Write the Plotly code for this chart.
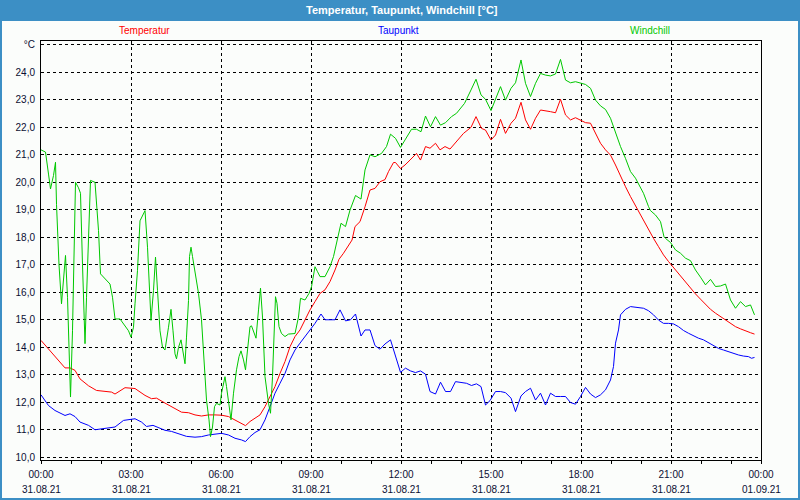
import pandas as pd
import plotly.graph_objects as go

# ---------------- data (minutes after 31.08.21 00:00, °C) ----------------
red_min = [0, 18, 28, 48, 58, 68, 78, 95, 111, 141,
           148, 168, 188, 208, 221, 231, 248, 261, 281, 295,
           308, 321, 335, 348, 361, 375, 388, 401, 409, 418,
           428, 438, 448, 458, 468, 478, 488, 498, 508, 518,
           528, 538, 548, 558, 568, 578, 588, 596, 605, 615,
           622, 628, 638, 648, 658, 668, 678, 688, 695, 705,
           709, 719, 728, 738, 751, 759, 769, 778, 789, 798,
           808, 818, 831, 845, 860, 870, 881, 889, 900, 909,
           919, 929, 940, 949, 960, 969, 979, 989, 999, 1009,
           1019, 1029, 1039, 1049, 1059, 1069, 1079, 1089, 1099, 1109,
           1119, 1129, 1139, 1149, 1159, 1169, 1179, 1189, 1197, 1205,
           1215, 1225, 1235, 1245, 1255, 1269, 1279, 1289, 1299, 1309,
           1319, 1329, 1339, 1349, 1359, 1369, 1379, 1389, 1399, 1409,
           1419, 1427]
red_val = [14.25, 13.88, 13.64, 13.25, 13.25, 13.16, 12.85, 12.6, 12.43, 12.37,
           12.3, 12.53, 12.5, 12.25, 12.13, 12.15, 11.97, 11.85, 11.64, 11.62,
           11.54, 11.5, 11.54, 11.54, 11.53, 11.48, 11.36, 11.24, 11.15, 11.3,
           11.42, 11.54, 11.84, 12.2, 12.57, 13.05, 13.48, 14.02, 14.39, 14.63,
           15.0, 15.36, 15.66, 15.96, 16.09, 16.39, 16.81, 17.2, 17.42, 17.72,
           17.9, 18.39, 18.57, 19.11, 19.72, 19.78, 20.02, 20.1, 20.39, 20.72,
           20.72, 20.5, 20.63, 20.81, 21.05, 20.81, 21.3, 21.24, 21.42, 21.18,
           21.3, 21.21, 21.48, 21.78, 22.0, 22.39, 21.96, 21.9, 21.54, 21.72,
           22.29, 21.78, 22.15, 22.33, 22.91, 22.27, 21.93, 22.33, 22.63, 22.61,
           22.57, 22.53, 23.02, 22.45, 22.27, 22.35, 22.27, 22.17, 22.15, 21.78,
           21.42, 21.18, 20.99, 20.63, 20.21, 19.84, 19.48, 19.15, 18.87, 18.57,
           18.27, 17.96, 17.66, 17.36, 17.12, 16.81, 16.59, 16.36, 16.15, 15.94,
           15.75, 15.57, 15.38, 15.24, 15.12, 14.99, 14.87, 14.75, 14.67, 14.59,
           14.53, 14.48]

blue_min = [0, 15, 28, 48, 58, 68, 78, 95, 108, 128,
            148, 165, 188, 201, 211, 224, 248, 261, 275, 291,
            308, 321, 335, 348, 361, 375, 388, 401, 409, 418,
            428, 438, 448, 458, 468, 478, 488, 498, 508, 518,
            528, 538, 548, 560, 568, 578, 588, 598, 609, 619,
            629, 640, 648, 658, 668, 678, 688, 699, 709, 719,
            729, 739, 749, 759, 769, 778, 789, 799, 809, 819,
            829, 841, 851, 861, 871, 880, 889, 898, 909, 919,
            929, 940, 949, 960, 969, 979, 989, 999, 1009, 1019,
            1029, 1039, 1049, 1059, 1069, 1079, 1089, 1099, 1109, 1119,
            1129, 1139, 1145, 1149, 1155, 1159, 1169, 1179, 1189, 1198,
            1205, 1215, 1225, 1235, 1245, 1255, 1265, 1275, 1285, 1295,
            1305, 1315, 1325, 1335, 1345, 1355, 1365, 1375, 1385, 1395,
            1405, 1415, 1421, 1427]
blue_val = [12.27, 11.88, 11.7, 11.52, 11.58, 11.48, 11.28, 11.16, 11.0, 11.06,
            11.1, 11.34, 11.4, 11.28, 11.12, 11.16, 10.98, 10.94, 10.85, 10.76,
            10.73, 10.75, 10.81, 10.85, 10.87, 10.81, 10.69, 10.63, 10.57, 10.75,
            10.9, 11.0, 11.36, 11.84, 12.33, 12.69, 13.05, 13.54, 13.9, 14.15,
            14.39, 14.63, 14.87, 15.21, 15.0, 15.0, 15.0, 15.36, 14.96, 15.0,
            15.21, 14.41, 14.63, 14.63, 14.06, 13.93, 14.12, 14.27, 13.66, 13.09,
            13.24, 13.14, 13.08, 13.14, 13.02, 12.39, 12.3, 12.73, 12.39, 12.39,
            12.75, 12.72, 12.69, 12.61, 12.67, 12.57, 11.9, 12.06, 12.39, 12.39,
            12.35, 12.15, 11.66, 12.23, 12.39, 12.51, 12.08, 12.33, 11.9, 12.33,
            12.21, 12.21, 12.21, 11.99, 11.93, 12.21, 12.54, 12.3, 12.17, 12.27,
            12.45, 12.81, 13.3, 14.15, 14.63, 15.18, 15.38, 15.48, 15.45, 15.42,
            15.42, 15.33, 15.18, 14.99, 14.87, 14.87, 14.85, 14.75, 14.61, 14.51,
            14.41, 14.33, 14.27, 14.17, 14.06, 13.96, 13.9, 13.84, 13.76, 13.72,
            13.68, 13.66, 13.6, 13.63]

green_min = [0, 9, 15, 19, 25, 29, 31, 36, 41, 43,
             47, 49, 53, 56, 59, 63, 66, 69, 75, 79,
             83, 88, 91, 95, 99, 108, 115, 119, 128, 138,
             143, 148, 158, 168, 175, 180, 185, 188, 193, 198,
             205, 208, 213, 217, 220, 225, 229, 233, 238, 243,
             248, 255, 260, 264, 268, 271, 275, 280, 283, 288,
             291, 295, 297, 300, 303, 308, 315, 321, 326, 331,
             336, 339, 343, 347, 351, 358, 361, 368, 371, 376,
             380, 385, 391, 396, 400, 405, 409, 413, 418, 421,
             426, 430, 435, 439, 443, 448, 455, 459, 463, 467,
             469, 472, 476, 481, 488, 495, 508, 515, 519, 528,
             536, 541, 548, 553, 558, 568, 578, 585, 591, 596,
             600, 609, 618, 629, 640, 648, 658, 668, 681, 691,
             699, 709, 719, 728, 741, 751, 760, 769, 779, 789,
             799, 809, 821, 831, 847, 860, 870, 880, 889, 900,
             909, 919, 929, 940, 949, 960, 969, 979, 989, 999,
             1009, 1019, 1029, 1039, 1049, 1059, 1069, 1079, 1089, 1099,
             1109, 1119, 1129, 1139, 1149, 1159, 1169, 1179, 1189, 1198,
             1205, 1215, 1219, 1229, 1239, 1246, 1249, 1259, 1269, 1279,
             1289, 1299, 1309, 1319, 1329, 1339, 1349, 1359, 1369, 1379,
             1389, 1399, 1409, 1419, 1427]
green_val = [21.18, 21.1, 20.3, 19.76, 20.25, 20.73, 19.2, 17.0, 15.58, 16.07,
             17.0, 17.34, 15.82, 14.13, 12.19, 14.6, 17.88, 20.0, 19.8, 19.6,
             17.0, 14.13, 15.8, 18.25, 20.07, 20.0, 18.25, 16.67, 16.5, 16.3,
             15.82, 15.03, 15.03, 14.8, 14.6, 14.37, 14.73, 15.58, 16.8, 18.6,
             18.9, 18.97, 17.64, 16.07, 14.98, 16.07, 17.28, 16.07, 14.6, 14.0,
             13.9, 14.73, 15.38, 14.6, 13.76, 13.58, 14.0, 14.27, 13.88, 13.4,
             14.37, 15.7, 17.3, 17.64, 17.3, 16.7, 15.96, 15.0, 13.54, 12.08,
             11.36, 10.75, 11.1, 11.84, 11.96, 11.9, 12.33, 12.93, 12.57, 11.84,
             11.36, 12.33, 13.18, 13.66, 13.87, 13.54, 13.18, 13.9, 14.75, 14.78,
             14.5, 14.33, 15.36, 16.15, 15.1, 12.93, 11.96, 11.6, 12.93, 14.75,
             15.84, 15.6, 14.75, 14.5, 14.39, 14.48, 14.5, 15.1, 15.78, 15.72,
             15.96, 16.2, 16.93, 16.75, 16.57, 16.57, 16.93, 17.3, 17.78, 18.2,
             18.51, 18.39, 18.99, 19.52, 19.39, 20.45, 21.0, 20.93, 21.05, 21.3,
             21.75, 21.6, 21.27, 21.54, 21.93, 21.93, 21.84, 22.41, 22.02, 22.39,
             22.08, 22.17, 22.39, 22.51, 22.87, 23.36, 23.75, 23.18, 23.02, 22.61,
             23.05, 23.48, 22.99, 23.42, 23.62, 24.45, 23.6, 23.12, 23.6, 23.96,
             23.9, 23.87, 23.94, 24.47, 23.72, 23.62, 23.66, 23.6, 23.56, 23.42,
             22.99, 22.78, 22.65, 22.33, 21.78, 21.3, 20.87, 20.39, 20.15, 19.84,
             19.6, 19.12, 18.97, 18.81, 18.57, 18.02, 17.96, 17.81, 17.54, 17.42,
             17.24, 17.15, 16.81, 16.55, 16.27, 16.47, 16.21, 16.23, 16.3, 15.72,
             15.42, 15.66, 15.48, 15.54, 15.18]

x_tick_hours = [0, 3, 6, 9, 12, 15, 18, 21, 24]
x_tick_times = ["00:00", "03:00", "06:00", "09:00", "12:00", "15:00", "18:00", "21:00", "00:00"]
x_tick_dates = ["31.08.21"] * 8 + ["01.09.21"]
y_tick_vals = [10, 11, 12, 13, 14, 15, 16, 17, 18, 19, 20, 21, 22, 23, 24, 25]
y_tick_text = ["10,0", "11,0", "12,0", "13,0", "14,0", "15,0", "16,0", "17,0",
               "18,0", "19,0", "20,0", "21,0", "22,0", "23,0", "24,0", "°C"]
series_names = ["Temperatur", "Taupunkt", "Windchill"]
series_colors = ["#ff0000", "#0000ff", "#00c800"]

# ---------------- figure ----------------
base = pd.Timestamp("2021-08-31 00:00")


def to_time(mins):
    return [base + pd.Timedelta(minutes=m) for m in mins]


assert len(red_min) == len(red_val)
assert len(blue_min) == len(blue_val)
assert len(green_min) == len(green_val)

fig = go.Figure()
for name, col, mins, vals in zip(series_names, series_colors,
                                 [red_min, blue_min, green_min],
                                 [red_val, blue_val, green_val]):
    fig.add_trace(go.Scatter(x=to_time(mins), y=vals, mode="lines", name=name,
                             line=dict(color=col, width=1), showlegend=False,
                             hoverinfo="skip"))

tickvals = [base + pd.Timedelta(hours=h) for h in x_tick_hours]

L, R, T, B = 41, 39, 41, 40
W, H = 800 - L - R, 500 - T - B
BLUE = "#3c8fc5"
BG = "#fbfdfb"
FONT = "Liberation Sans"
TXT = "#0b0f33"


def px_x(px):
    return (px - L) / W


def px_y(py):
    return (500 - B - py) / H


fig.update_layout(
    width=800, height=500,
    margin=dict(l=L, r=R, t=T, b=B, autoexpand=False),
    paper_bgcolor=BLUE,
    plot_bgcolor=BG,
    font=dict(family=FONT, size=10, color=TXT),
    xaxis=dict(
        type="date",
        range=[base, base + pd.Timedelta(hours=24)],
        tickvals=tickvals, ticktext=x_tick_times,
        ticks="outside", ticklen=3, tickcolor="black", tickwidth=1,
        minor=dict(dtick=3600000, ticks="outside", ticklen=3, tickcolor="black",
                   showgrid=False),
        showgrid=True, gridcolor="black", gridwidth=1, griddash="3px,3px",
        showline=True, linecolor="black", linewidth=1, mirror=True,
        zeroline=False, tickfont=dict(family=FONT, size=10, color=TXT),
        ticklabelstandoff=2, automargin=False,
    ),
    yaxis=dict(
        range=[9.90, 25.14],
        tickvals=y_tick_vals, ticktext=y_tick_text,
        ticks="", showgrid=True, gridcolor="black", gridwidth=1, griddash="3px,3px",
        showline=True, linecolor="black", linewidth=1, mirror=True,
        zeroline=False, tickfont=dict(family=FONT, size=10, color=TXT),
        ticklabelstandoff=3, automargin=False,
    ),
    shapes=[dict(type="rect", xref="paper", yref="paper", layer="below",
                 x0=px_x(2), x1=px_x(798), y0=px_y(498), y1=px_y(21),
                 fillcolor=BG, line=dict(width=0))],
)

ann = [dict(text="<b>Temperatur, Taupunkt, Windchill [°C]</b>", xref="paper", yref="paper",
            x=px_x(402), y=px_y(10), showarrow=False, xanchor="center", yanchor="middle",
            font=dict(family=FONT, size=11, color="white"))]
for name, col, cx in zip(series_names, series_colors, [144, 398, 650]):
    ann.append(dict(text=name, xref="paper", yref="paper", x=px_x(cx), y=px_y(30),
                    showarrow=False, xanchor="center", yanchor="middle",
                    font=dict(family=FONT, size=10, color=col)))
for tv, d in zip(tickvals, x_tick_dates):
    ann.append(dict(text=d, xref="x", yref="paper", x=tv, y=px_y(489),
                    showarrow=False, xanchor="center", yanchor="middle",
                    font=dict(family=FONT, size=10, color=TXT)))
fig.update_layout(annotations=ann)

fig.write_html("out.html", config={"displayModeBar": False},
               post_script="document.body.style.margin='0';document.body.style.padding='0';")
